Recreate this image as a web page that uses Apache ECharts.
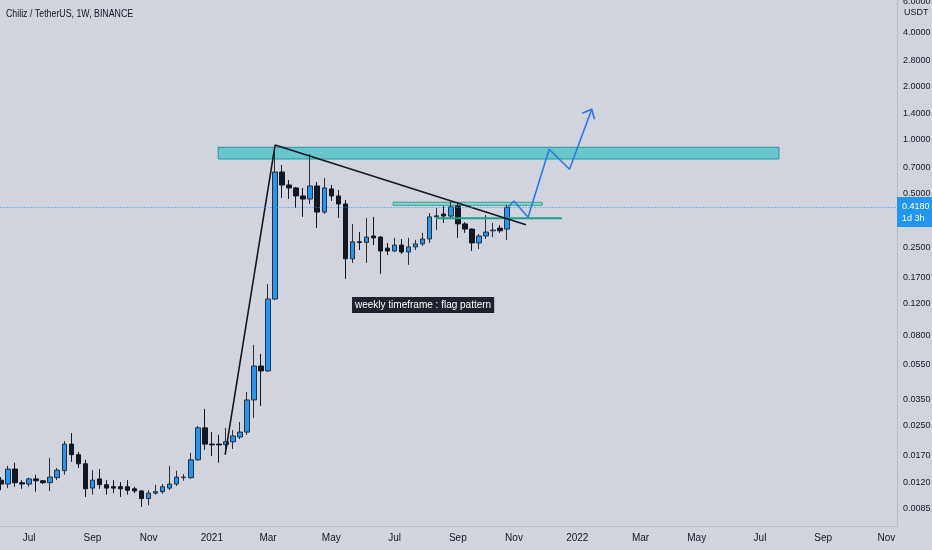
<!DOCTYPE html>
<html>
<head>
<meta charset="utf-8">
<title>Chiliz / TetherUS, 1W, BINANCE</title>
<script src="https://cdn.jsdelivr.net/npm/echarts@6/dist/echarts.min.js"></script>
<style>
  html, body { margin: 0; padding: 0; background: #d1d4dc; }
  #chart { width: 932px; height: 550px; }
</style>
</head>
<body>
<div id="chart"></div>
<script>
// weekly candles, first one is the week of 2020-06-08
var firstWeek = Date.UTC(2020, 5, 8);
var weekCount = 128; // candles + empty weeks to the right
var monthNames = ['Jan','Feb','Mar','Apr','May','Jun','Jul','Aug','Sep','Oct','Nov','Dec'];

var opens  = [.0123,.0117,.0142,.0119,.0117,.0125,.0122,.0119,.0127,.0139,.0196,.0171,.0152,.0111,.0125,.0116,.0113,.0113,.0113,.0110,
              .0107,.0097,.0104,.0106,.0111,.0117,.0127,.0127,.0160,.0242,.0196,.0196,.0195,.0202,.0215,.0229,.0347,.0538,.0505,.128,
              .661,.559,.538,.485,.466,.552,.394,.531,.485,.437,.215,.268,.266,.289,.285,.247,.238,.257,.235,.251,
              .261,.278,.370,.384,.374,.426,.338,.316,.264,.289,.309,.320,.316];
var closes = [.0117,.0142,.0119,.0117,.0125,.0122,.0119,.0128,.0140,.0196,.0171,.0152,.0110,.0123,.0116,.0111,.0111,.0110,.0108,.0107,
              .0097,.0104,.0106,.0113,.0117,.0128,.0128,.0160,.0242,.0196,.0194,.0194,.0202,.0218,.0229,.0347,.0538,.0505,.128,.661,
              .559,.538,.485,.466,.552,.394,.538,.485,.437,.215,.268,.266,.285,.282,.238,.238,.257,.235,.251,.261,
              .278,.370,.375,.374,.421,.338,.316,.264,.289,.304,.312,.309,.418];
var lows   = [.0108,.0111,.0113,.0110,.0113,.0106,.0117,.0107,.0123,.0132,.0156,.0144,.0099,.0102,.0110,.0102,.0104,.0099,.0102,.0104,
              .0087,.0089,.0102,.0103,.0108,.0114,.0122,.0125,.0158,.0182,.0168,.0154,.0171,.0184,.0209,.0221,.0275,.0321,.0498,.126,
              .473,.466,.415,.370,.437,.321,.384,.455,.365,.166,.204,.241,.204,.257,.177,.226,.235,.229,.199,.241,
              .254,.264,.312,.342,.360,.282,.301,.238,.244,.278,.285,.301,.274];
var highs  = [.0128,.0148,.0154,.0123,.0127,.0132,.0123,.0164,.0144,.0204,.0226,.0177,.0160,.0140,.0142,.0123,.0123,.0120,.0123,.0113,
              .0108,.0108,.0116,.0117,.0148,.0139,.0133,.0175,.0248,.0309,.0229,.0221,.0242,.0235,.0261,.0385,.0707,.0629,.155,.890,
              .724,.596,.545,.538,.834,.581,.612,.559,.524,.460,.338,.304,.365,.370,.289,.264,.282,.278,.282,.275,
              .301,.389,.415,.426,.449,.449,.346,.320,.297,.379,.342,.333,.432];

var lastPrice = 0.418;
var yTicks = [0.0085, 0.012, 0.017, 0.025, 0.035, 0.055, 0.08, 0.12, 0.17, 0.25, 0.5, 0.7, 1, 1.4, 2, 2.8, 4, 6];

// drawings, as [week index, price]
var flagLine   = [[31.9, 0.0171], [39.0, 0.937], [74.7, 0.3345]];
var pathLine   = [[72.2, 0.4205], [73.0, 0.454], [75.0, 0.368], [78.0, 0.887], [80.9, 0.685], [84.06, 1.487]];
var arrowHead  = [[82.7, 1.412], [84.06, 1.487], [84.45, 1.307]];
var supportLine = [[61.9, 0.363], [79.8, 0.363]];
var bigZone   = [[30.9, 0.910], [110.7, 0.782]];
var smallZone = [[55.8, 0.447], [77.0, 0.430]];

var weeks = [];
for (var i = 0; i < weekCount; i++) {
  weeks.push(new Date(firstWeek + i * 7 * 864e5).toISOString().slice(0, 10));
}
var candles = opens.map(function (o, i) { return [o, closes[i], lows[i], highs[i]]; });

var font = "'Liberation Sans', Arial, sans-serif";
var chart = echarts.init(document.getElementById('chart'));

var option = {
  backgroundColor: '#d1d4dc',
  animation: false,
  grid: { left: -2.5, right: 35, top: 0, bottom: 24, containLabel: false, outerBoundsMode: 'none' },
  xAxis: [
    {
      type: 'category',
      data: weeks,
      boundaryGap: true,
      axisLine: { show: true, lineStyle: { color: '#b8bbc3' } },
      axisTick: { show: false },
      splitLine: { show: false },
      axisLabel: {
        color: '#131722', fontSize: 10, fontFamily: font, margin: 7,
        interval: function (idx, val) {
          // first week of every other month: Jan, Mar, May, Jul, Sep, Nov
          return +val.slice(8, 10) <= 7 && (+val.slice(5, 7) - 1) % 2 === 0;
        },
        formatter: function (val) {
          var m = +val.slice(5, 7) - 1;
          return m === 0 ? val.slice(0, 4) : monthNames[m];
        }
      }
    },
    { type: 'value', min: -0.5, max: weekCount - 0.5, show: false }
  ],
  yAxis: {
    type: 'log',
    position: 'right',
    min: 0.0068,
    max: 6.11,
    axisLine: { show: true, onZero: false, lineStyle: { color: '#b8bbc3' } },
    axisTick: { show: false },
    splitLine: { show: false },
    axisLabel: {
      customValues: yTicks,
      color: '#131722', fontSize: 9, fontFamily: font, margin: 6,
      formatter: function (v) { return v.toFixed(4); }
    }
  },
  series: [
    {
      type: 'candlestick',
      data: candles,
      barWidth: 5,
      itemStyle: {
        color: '#2196f3', color0: '#131722',
        borderColor: '#2a2e39', borderColor0: '#131722', borderWidth: 1
      }
    },
    {
      type: 'line', xAxisIndex: 1, data: supportLine, symbol: 'none', z: 3,
      lineStyle: { color: '#1f9e8a', width: 2 },
      markArea: {
        silent: true,
        data: [
          [{ xAxis: bigZone[0][0], yAxis: bigZone[0][1], itemStyle: { color: 'rgba(20,185,190,0.55)', borderColor: '#1f9aa0', borderWidth: 1 } },
           { xAxis: bigZone[1][0], yAxis: bigZone[1][1] }],
          [{ xAxis: smallZone[0][0], yAxis: smallZone[0][1], itemStyle: { color: 'rgba(34,171,148,0.25)', borderColor: '#22ab94', borderWidth: 1 } },
           { xAxis: smallZone[1][0], yAxis: smallZone[1][1] }]
        ]
      },
      markLine: {
        silent: true,
        symbol: 'none',
        itemStyle: { color: '#2196f3' },
        lineStyle: { type: [1, 2], color: '#2196f3', width: 1, opacity: 1 },
        label: {
          position: 'end', distance: 0, offset: [0, 5],
          formatter: lastPrice.toFixed(4) + '\n1d 3h',
          backgroundColor: '#2196f3', color: '#ffffff',
          fontSize: 9, fontFamily: font, lineHeight: 12, padding: [3, 4, 3, 5]
        },
        data: [{ yAxis: lastPrice }]
      }
    },
    {
      type: 'line', xAxisIndex: 1, data: flagLine, symbol: 'none', z: 4,
      lineStyle: { color: '#131722', width: 1.6 }
    },
    {
      type: 'line', xAxisIndex: 1, data: pathLine, symbol: 'none', z: 4,
      lineStyle: { color: '#2f76e8', width: 1.6 }
    },
    {
      type: 'line', xAxisIndex: 1, data: arrowHead, symbol: 'none', z: 4,
      lineStyle: { color: '#2f76e8', width: 1.6 }
    }
  ],
  graphic: [
    { type: 'text', x: 6, y: 8, scaleX: 0.8, z: 10,
      style: { text: 'Chiliz / TetherUS, 1W, BINANCE', fill: '#131722', font: '11px ' + font } },
    { type: 'text', x: 904, y: 8, z: 10,
      style: { text: 'USDT', fill: '#131722', font: '9px ' + font } },
    { type: 'text', x: 352, y: 297, z: 10,
      style: { text: 'weekly timeframe : flag pattern', fill: '#ffffff', font: '10px ' + font,
               backgroundColor: '#1e222d', padding: [3, 3, 3, 3] } }
  ]
};
chart.setOption(option);
</script>
</body>
</html>
